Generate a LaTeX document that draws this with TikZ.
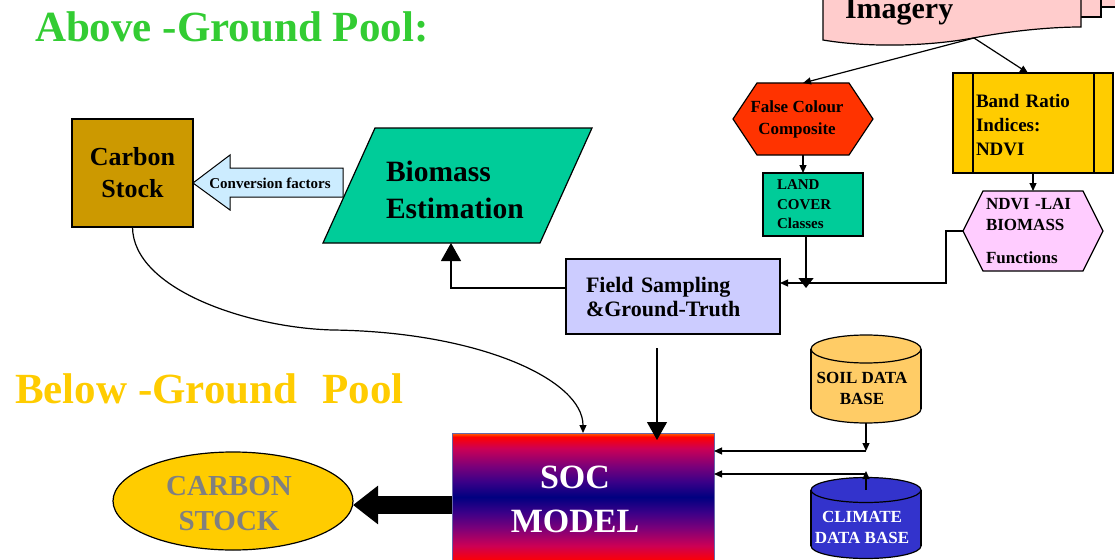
\documentclass[tikz,border=0pt]{standalone}
\usepackage{fontspec}
\setmainfont{Liberation Serif}
\usetikzlibrary{arrows.meta,shapes.geometric,calc}
\definecolor{agreen}{HTML}{33CC33}
\definecolor{bgold}{HTML}{FFCC00}
\definecolor{cbrown}{HTML}{CC9900}
\definecolor{convblue}{HTML}{CCECFF}
\definecolor{tealc}{HTML}{00CC99}
\definecolor{fcred}{HTML}{FF3300}
\definecolor{lav}{HTML}{CCCCFF}
\definecolor{pinkd}{HTML}{FFCCCC}
\definecolor{pinkh}{HTML}{FFCCFF}
\definecolor{soilc}{HTML}{FFCC66}
\definecolor{climc}{HTML}{3333CC}
\definecolor{grayt}{HTML}{808080}
\definecolor{socred}{HTML}{FF0000}
\definecolor{socmag}{HTML}{CC0055}
\definecolor{socpurp}{HTML}{7A007A}
\definecolor{socviol}{HTML}{3A0088}
\definecolor{socnavy}{HTML}{000080}
\definecolor{socorange}{HTML}{FF6600}
\definecolor{socborder}{HTML}{6666AA}
\pgfdeclareverticalshading{socshade}{100bp}{color(0bp)=(socred); color(25bp)=(socred); color(31bp)=(socmag); color(38bp)=(socpurp); color(44bp)=(socviol); color(50bp)=(socnavy); color(56bp)=(socviol); color(62bp)=(socpurp); color(69bp)=(socmag); color(73.5bp)=(socred); color(75bp)=(socorange); color(100bp)=(socorange)}
\newcommand{\fz}[2]{\fontsize{#1}{#2}\selectfont\bfseries}
\begin{document}
\begin{tikzpicture}[x=1pt,y=-1pt,
  every node/.style={inner sep=0pt, outer sep=0pt},
  shp/.style={draw=black, line width=1.2pt},
  ln/.style={line width=1.2pt},
  arr/.style={ln, -{Triangle[length=8pt 0 0,width=7pt 0 0]}},
  bigtri/.style={ln, -{Triangle[length=18pt 0 0,width=20pt 0 0]}},
  midtri/.style={ln, -{Triangle[length=10pt 0 0,width=15pt 0 0]}},
]
\useasboundingbox (0,0) rectangle (1115,559);
\clip (0,0) rectangle (1115,559);

% titles
\node[anchor=base west, text=agreen, font=\fz{43}{48}] (t1) at (35,42) {Above -Ground Pool:};
\node[anchor=base west, text=bgold, font=\fz{43}{48}] (t2) at (15,403) {Below -Ground\hspace*{0.58em}Pool};

% imagery (multi-document)
\path[shp, fill=pinkd] (863,-10) rectangle (1130,7);
\path[shp, fill=pinkd] (843,-10) rectangle (1101,17);
\path[shp, fill=pinkd] (823,-10) -- (823,40) .. controls (870,48) and (930,46) .. (973,38) .. controls (1010,31) and (1050,27) .. (1081,27) -- (1081,-10) -- cycle;
\node[anchor=base west, font=\fz{30}{34}] (img) at (845,19) {Imagery};
\coordinate (imgsrc) at (974,38);

% false colour composite hexagon
\path[shp, fill=fcred] (733,119) -- (757,83) -- (849,83) -- (873,119) -- (849,155) -- (757,155) -- cycle;
\node[minimum width=140pt, minimum height=72pt, align=center, font=\fz{17}{22}] (fc) at (803,119) {False Colour\hspace*{12pt}\\Composite\hspace*{12pt}};

% land cover
\node[shp, fill=tealc, inner xsep=14pt, text width=72pt, minimum height=63pt, align=left, font=\fz{15}{19.5}] (lc) at (813,204.5) {LAND\\COVER\\Classes};

% band ratio
\node[shp, fill=bgold, inner xsep=23pt, text width=114pt, minimum height=100pt, text height=17pt, align=left, font=\fz{19}{24}] (br) at (1033,123) {Band Ratio\\Indices:\\NDVI};
\draw[ln] ([xshift=20pt]br.north west) -- ([xshift=20pt]br.south west);
\draw[ln] ([xshift=-19pt]br.north east) -- ([xshift=-19pt]br.south east);

% NDVI-LAI hexagon
\path[shp, fill=pinkh] (963,231) -- (983,191) -- (1083,191) -- (1103,231) -- (1083,271) -- (983,271) -- cycle;
\node[inner xsep=23pt, text width=94pt, minimum height=80pt, align=left, font=\fz{17}{21}] (nd) at (1033,231) {NDVI -LAI\\BIOMASS\\[12pt]Functions};

% field sampling
\node[shp, fill=lav, inner xsep=20pt, text width=174pt, minimum height=75pt, align=left, font=\fz{22}{24}] (fs) at (673,296.5) {Field Sampling\\\&Ground-Truth};

% biomass parallelogram
\path[shp, fill=tealc] (323,243) -- (375,128) -- (592,128) -- (540,243) -- cycle;
\node[inner xsep=63pt, text width=143pt, minimum height=115pt, align=left, font=\fz{29.5}{37}] (bio) at (457.5,189.5) {Biomass\\Estimation};

% carbon stock box
\node[shp, fill=cbrown, minimum width=121pt, minimum height=108pt, align=center, font=\fz{26}{32}] (cs) at (132.5,173) {Carbon\\Stock};

% conversion factors block arrow
\path[line width=1pt, draw=black, fill=convblue] (343,168) -- (230,168) -- (230,155) -- (193,183) -- (230,210) -- (230,197) -- (343,197) -- cycle;
\node[font=\fz{15}{17}] (conv) at (270,183) {Conversion factors};

% SOC model
\node[draw=socborder, line width=1pt, shading=socshade, minimum width=262pt, minimum height=128pt] (soc) at (583,497) {};
\node[text=white, align=center, font=\fz{34}{44}] (soct) at (575,499) {SOC\\MODEL};

% carbon stock ellipse
\node[ellipse, shp, fill=bgold, minimum width=240pt, minimum height=98pt] (cst) at (233,501) {};
\node[text=grayt, align=center, font=\fz{29}{35}] (cstt) at (229,504) {CARBON\\STOCK};

% soil data base cylinder
\path[shp, fill=soilc] (866,409) ellipse [x radius=55, y radius=14];
\path[fill=soilc] (811,349) rectangle (921,409);
\draw[ln] (811,349) -- (811,409) (921,349) -- (921,409);
\path[shp, fill=soilc] (866,349) ellipse [x radius=55, y radius=14];
\node[minimum width=110pt, minimum height=88pt] (soil) at (866,379) {};
\node[align=center, font=\fz{17}{21}] (soilt) at (862,388) {SOIL DATA\\BASE};

% climate data base cylinder
\path[shp, fill=climc] (866,546) ellipse [x radius=55, y radius=12.5];
\path[fill=climc] (811,490) rectangle (921,546);
\draw[ln] (811,490) -- (811,546) (921,490) -- (921,546);
\path[shp, fill=climc] (866,490) ellipse [x radius=55, y radius=12.5];
\node[minimum width=110pt, minimum height=80pt] (clim) at (866,518) {};
\node[text=white, align=center, font=\fz{17}{21}] (climt) at (862,527) {CLIMATE\\DATA BASE};

% connectors
\draw[arr] (imgsrc) -- (fc.north);
\draw[arr] (imgsrc) -- ([xshift=-5pt]br.north);
\draw[arr] (fc.south) -- (fc.south |- lc.north);
\coordinate (lcj) at (806,288);
\draw[midtri] (lc.south -| lcj) -- (lcj);
\draw[arr] (br.south) -- (nd.north);
\draw[arr] (nd.west) -- ++(-17,0) |- ([yshift=13.5pt]fs.east);
\draw[bigtri] ([yshift=8.5pt]fs.west) -| ([xshift=-6.5pt,yshift=4pt]bio.south);
\coordinate (socin) at (657,440);
\draw[bigtri] ([xshift=-16pt,yshift=-14pt]fs.south) -- (socin);
\draw[arr] (cs.south) .. controls (133,290) and (250,328) .. (333,330) .. controls (480,332) and (583,380) .. (soc.north);
\draw[line width=18pt, -{Triangle[length=25pt 0 0,width=37pt 0 0]}] ([yshift=-8pt]soc.west) -- ([yshift=-4pt]cst.east);
\coordinate (sj) at (866,451);
\draw[arr] (soil.south) -- (sj);
\draw[arr] (sj) -- (sj -| soc.east);
\coordinate (cj) at (866,471);
\draw[arr] ([yshift=-12pt]clim.north) -- (cj);
\coordinate (cjh) at (866,474);
\draw[arr] (cjh) -- (cjh -| soc.east);
\end{tikzpicture}
\end{document}
